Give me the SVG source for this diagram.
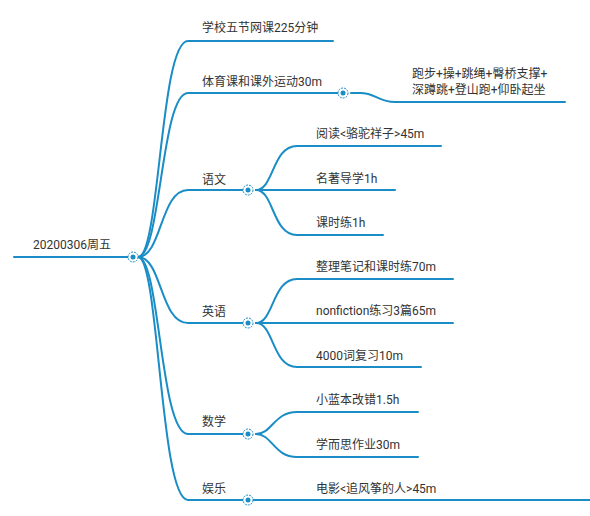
<svg xmlns="http://www.w3.org/2000/svg" width="590" height="516" viewBox="0 0 590 516">
<defs>
<style>
.ln{fill:none;stroke:#1a8dc6;stroke-width:2;stroke-linecap:round}
.t{font-family:Roboto,"Noto Sans CJK SC",sans-serif;font-size:12px;fill:#333}
.ring{fill:#fff;stroke:#1a8dc6;stroke-width:1;stroke-dasharray:2 1}
.dot{fill:#1a8dc6}
</style>
<g id="dotsym"></g>
</defs>
<rect width="590" height="516" fill="#fff"/>
<g id="connectors">
<path class="ln" d="M14,257 L133,257"/>
<path class="ln" d="M138,257 C160,257 160,41 188,41 L333,41"/>
<path class="ln" d="M138,257 C161,257 161,93 188,93 L343,93"/>
<path class="ln" d="M351,93 L360,93 C376,93 378,102 395,102 L565,102"/>
<path class="ln" d="M138,257 C162,257 160,190 188,190 L248,190"/>
<path class="ln" d="M138,257 C162,257 160,323 188,323 L248,323"/>
<path class="ln" d="M138,257 C160,257 160,434 188,434 L248,434"/>
<path class="ln" d="M138,257 C159,257 160,500 188,500 L590,500"/>
<path class="ln" d="M256,190 C274,190 272,146 297,146 L441,146"/>
<path class="ln" d="M256,190 L395,190"/>
<path class="ln" d="M256,190 C274,190 272,235 297,235 L383,235"/>
<path class="ln" d="M256,323 C274,323 272,279 297,279 L453,279"/>
<path class="ln" d="M256,323 L453,323"/>
<path class="ln" d="M256,323 C274,323 272,367 297,367 L421,367"/>
<path class="ln" d="M256,434 C272,434 274,412 297,412 L418,412"/>
<path class="ln" d="M256,434 C272,434 274,457 297,457 L418,457"/>
</g>
<g id="root">
<text class="t" x="33" y="249">20200306周五</text>
<circle class="ring" cx="133" cy="257" r="5"/><circle class="dot" cx="133" cy="257" r="2.5"/>
</g>
<g id="n-school"><text class="t" x="202" y="32">学校五节网课225分钟</text></g>
<g id="n-pe">
<text class="t" x="202" y="86">体育课和课外运动30m</text>
<circle class="ring" cx="343" cy="93" r="5"/><circle class="dot" cx="343" cy="93" r="2.5"/>
</g>
<g id="n-pe-detail">
<text class="t" x="412" y="78">跑步+操+跳绳+臀桥支撑+</text>
<text class="t" x="412" y="94">深蹲跳+登山跑+仰卧起坐</text>
</g>
<g id="n-chinese">
<text class="t" x="202" y="184">语文</text>
<circle class="ring" cx="248" cy="190" r="5"/><circle class="dot" cx="248" cy="190" r="2.5"/>
</g>
<g id="n-read"><text class="t" x="316" y="138">阅读&lt;骆驼祥子&gt;45m</text></g>
<g id="n-classic"><text class="t" x="316" y="183">名著导学1h</text></g>
<g id="n-ch-ex"><text class="t" x="316" y="227">课时练1h</text></g>
<g id="n-english">
<text class="t" x="202" y="316">英语</text>
<circle class="ring" cx="248" cy="323" r="5"/><circle class="dot" cx="248" cy="323" r="2.5"/>
</g>
<g id="n-notes"><text class="t" x="316" y="271">整理笔记和课时练70m</text></g>
<g id="n-nonfic"><text class="t" x="316" y="315">nonfiction练习3篇65m</text></g>
<g id="n-words"><text class="t" x="316" y="360">4000词复习10m</text></g>
<g id="n-math">
<text class="t" x="202" y="426">数学</text>
<circle class="ring" cx="248" cy="434" r="5"/><circle class="dot" cx="248" cy="434" r="2.5"/>
</g>
<g id="n-blue"><text class="t" x="316" y="404">小蓝本改错1.5h</text></g>
<g id="n-xes"><text class="t" x="316" y="449">学而思作业30m</text></g>
<g id="n-fun">
<text class="t" x="202" y="493">娱乐</text>
<circle class="ring" cx="248" cy="500" r="5"/><circle class="dot" cx="248" cy="500" r="2.5"/>
</g>
<g id="n-movie"><text class="t" x="316" y="493">电影&lt;追风筝的人&gt;45m</text></g>
</svg>
